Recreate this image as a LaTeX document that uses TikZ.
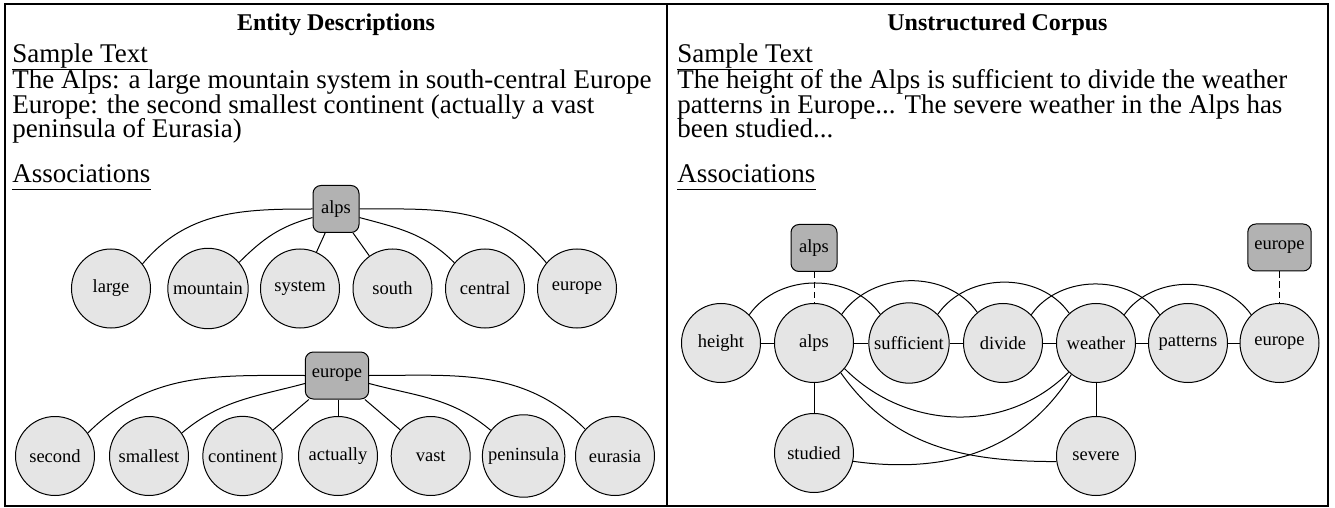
\documentclass[tikz,border=0pt]{standalone}
\usepackage{fontspec}
\setmainfont{Liberation Serif}
\begin{document}
\begin{tikzpicture}[x=0.5pt,y=-0.5pt,
  ent/.style={draw, fill=black!30, rounded corners=4pt, minimum width=23pt, minimum height=23.5pt, inner xsep=3.25pt, font=\fontsize{9.25}{11}\selectfont, line width=0.5pt},
  wd/.style={circle, draw, fill=black!10, minimum size=39.5pt, inner sep=2pt, font=\fontsize{9.25}{11}\selectfont, line width=0.5pt},
  lnk/.style={line width=0.5pt},
  dlnk/.style={line width=0.5pt, dash pattern=on 3.2pt off 1.8pt},
  txt/.style={anchor=base west, inner sep=0pt, font=\fontsize{13.5}{13.5}\selectfont},
  ttl/.style={anchor=base, inner sep=0pt, font=\bfseries\fontsize{12}{12}\selectfont},
  uline/.style={line width=0.5pt}]
\useasboundingbox (0,0) rectangle (1335,508);
% frame
\draw[line width=0.6pt] (5,4) rectangle (1328,506);
\draw[line width=0.6pt] (667,4) -- (667,506);
% titles
\node[ttl] (t1) at (336,31) {Entity Descriptions};
\node[ttl] (t2) at (997.5,31) {Unstructured Corpus};
% left texts
\node[txt] (ls) at (12,63) {Sample Text};
\node[txt] (l1) at (12,89) {The Alps: a large mountain system in south-central Europe};
\node[txt] (l2) at (12,113.5) {Europe: the second smallest continent (actually a vast};
\node[txt] (l3) at (12,138) {peninsula of Eurasia)};
\node[txt] (la) at (12,183) {Associations};
\draw[uline] ([yshift=-3.3pt]ls.base west) -- ([yshift=-3.3pt]ls.base east);
\draw[uline] ([yshift=-3.5pt]la.base west) -- ([yshift=-3.5pt]la.base east);
% right texts
\node[txt] (rs) at (677,63) {Sample Text};
\node[txt] (r1) at (677,89) {The height of the Alps is sufficient to divide the weather};
\node[txt] (r2) at (677,113.5) {patterns in Europe... The severe weather in the Alps has};
\node[txt] (r3) at (677,138) {been studied...};
\node[txt] (ra) at (677,183) {Associations};
\draw[uline] ([yshift=-3.3pt]rs.base west) -- ([yshift=-3.3pt]rs.base east);
\draw[uline] ([yshift=-3.5pt]ra.base west) -- ([yshift=-3.5pt]ra.base east);
% left graph 1
\node[ent] (a1) at (336,209) {alps};
\node[wd] (large) at (111,288.5) {large};
\node[wd] (mountain) at (208,288.5) {mountain};
\node[wd] (system) at (300,288.5) {system};
\node[wd] (south) at (392.5,288.5) {south};
\node[wd] (central) at (485,288.5) {central};
\node[wd] (eu1) at (577,288.5) {europe};
\draw[lnk] (a1.west) to[out=180,in=50] (large.38);
\draw[lnk] (a1.200) to[out=195,in=45] (mountain.40);
\draw[lnk] (a1) -- (system);
\draw[lnk] (a1) -- (south);
\draw[lnk] (a1.-20) to[out=-15,in=135] (central.140);
\draw[lnk] (a1.east) to[out=0,in=130] (eu1.140);
% left graph 2
\node[ent] (e2) at (337,375.5) {europe};
\node[wd] (second) at (55,456) {second};
\node[wd] (smallest) at (149,456) {smallest};
\node[wd] (continent) at (242.5,456) {continent};
\node[wd] (actually) at (338,456) {actually};
\node[wd] (vast) at (430.7,456) {vast};
\node[wd] (peninsula) at (523.6,456) {peninsula};
\node[wd] (eurasia) at (615,456) {eurasia};
\draw[lnk] (e2.west) to[out=180,in=45] (second.35);
\draw[lnk] (e2.194) to[out=195,in=40] (smallest.35);
\draw[lnk] (e2) -- (continent);
\draw[lnk] (e2.south -| actually.north) -- (actually.north);
\draw[lnk] (e2) -- (vast);
\draw[lnk] (e2.-14) to[out=-15,in=140] (peninsula.142);
\draw[lnk] (e2.east) to[out=0,in=135] (eurasia.138);
% right graph
\node[ent] (ab) at (814,248) {alps};
\node[ent] (eb) at (1279.5,247.5) {europe};
\node[wd] (height) at (721,343) {height};
\node[wd] (a2) at (814,343) {alps};
\node[wd] (suff) at (909,343) {sufficient};
\node[wd] (divide) at (1003,343) {divide};
\node[wd] (weather) at (1096,343) {weather};
\node[wd] (patterns) at (1188,343) {patterns};
\node[wd] (eu2) at (1279.5,343) {europe};
\node[wd] (studied) at (814,453) {studied};
\node[wd] (severe) at (1096,456) {severe};
\draw[dlnk] (ab) -- (a2);
\draw[dlnk] (eb) -- (eu2);
\draw[lnk] (height) -- (a2);
\draw[lnk] (a2) -- (suff);
\draw[lnk] (suff) -- (divide);
\draw[lnk] (divide) -- (weather);
\draw[lnk] (weather) -- (patterns);
\draw[lnk] (patterns) -- (eu2);
\draw[lnk] (height.45) to[out=55,in=125] (suff.135);
\draw[lnk] (a2.46) to[out=55,in=125] (divide.130);
\draw[lnk] (suff.45) to[out=55,in=125] (weather.132);
\draw[lnk] (divide.45) to[out=55,in=125] (patterns.135);
\draw[lnk] (weather.45) to[out=55,in=125] (eu2.135);
\draw[lnk] (a2) -- (studied);
\draw[lnk] (weather) -- (severe);
\draw[lnk] (a2.-40) to[out=-45,in=-135] (weather.-133);
\draw[lnk] (a2.-48) to[out=-55,in=180] (severe.188);
\draw[lnk] (studied.-12) to[out=-8,in=-122] (weather.-128);
\end{tikzpicture}
\end{document}
